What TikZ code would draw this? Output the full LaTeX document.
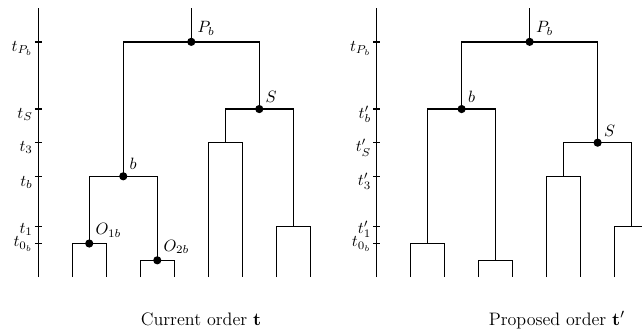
\documentclass[tikz,border=0pt]{standalone}
\usetikzlibrary{positioning}
\begin{document}
\begin{tikzpicture}[x=10.37pt,y=10.25pt,
branch/.style={line width=0.85pt,draw=black},
axisline/.style={line width=0.85pt,draw=black},
vertex/.style={circle,fill=black,inner sep=0pt,minimum size=5pt},
tickname/.style={anchor=base east,inner sep=0pt},
vertexname/.style={anchor=south west,inner sep=1.8pt},
caption/.style={anchor=base,font=\fontsize{11}{13}\selectfont}]
\useasboundingbox (-2.25,-3.45) rectangle (35.51,16.49);
% current order
\coordinate (axbot) at (0,0);
\coordinate (axtop) at (0,16);
\draw[axisline] (axbot) -- (axtop);
\foreach \lv/\dy/\nm/\txt in {14/0.55/tPb/{t_{P_b}},10/0.55/tS/{t_S},8/0.5/tthree/{t_3},6/0.6/tb/{t_b},3/0.4/tone/{t_1},2/0.2/tzero/{t_{0_b}}}{
\draw[axisline] (-0.2,\lv) -- (0.2,\lv);
\node[tickname] (\nm) at (-0.3,\lv-\dy) {$\txt$};
}
\foreach \k in {1,...,8}{\coordinate (leaf\k) at (2*\k,0);}
\coordinate (roottop) at (9,16);
\node[vertex] (Pb) at (9,14) {};
\node[vertex] (b) at (5,6) {};
\node[vertex] (S) at (13,10) {};
\node[vertex] (Oone) at (3,2) {};
\node[vertex] (Otwo) at (7,1) {};
\coordinate (sthree) at (11,8);
\coordinate (sone) at (15,3);
\draw[branch] (roottop) -- (Pb.center);
\draw[branch] (b.center) |- (Pb.center) -| (S.center);
\draw[branch] (Oone.center) |- (b.center) -| (Otwo.center);
\draw[branch] (sthree) |- (S.center) -| (sone);
\draw[branch] (leaf1) |- (Oone.center) -| (leaf2);
\draw[branch] (leaf3) |- (Otwo.center) -| (leaf4);
\draw[branch] (leaf5) |- (sthree) -| (leaf6);
\draw[branch] (leaf7) |- (sone) -| (leaf8);
\node[vertexname] (Pbname) at (Pb.north east) {$P_b$};
\node[vertexname] (bname) at (b.north east) {$b$};
\node[vertexname] (Sname) at (S.north east) {$S$};
\node[vertexname] (Oonename) at (Oone.north east) {$O_{1b}$};
\node[vertexname] (Otwoname) at (Otwo.north east) {$O_{2b}$};
\node[caption] (curcap) at (9.57,-2.86) {Current order $\mathbf{t}$};
% proposed order
\begin{scope}[shift={(19.9,0)}]
\coordinate (raxbot) at (0,0);
\coordinate (raxtop) at (0,16);
\draw[axisline] (raxbot) -- (raxtop);
\foreach \lv/\dy/\nm/\txt in {14/0.55/rtPb/{t_{P_b}},10/0.55/rtb/{t'_b},8/0.55/rtS/{t'_S},6/0.55/rtthree/{t'_3},3/0.4/rtone/{t'_1},2/0.2/rtzero/{t_{0_b}}}{
\draw[axisline] (-0.2,\lv) -- (0.2,\lv);
\node[tickname] (\nm) at (-0.3,\lv-\dy) {$\txt$};
}
\foreach \k in {1,...,8}{\coordinate (rleaf\k) at (2*\k,0);}
\coordinate (rroottop) at (9,16);
\node[vertex] (rPb) at (9,14) {};
\node[vertex] (rb) at (5,10) {};
\node[vertex] (rS) at (13,8) {};
\coordinate (rOone) at (3,2);
\coordinate (rOtwo) at (7,1);
\coordinate (rsthree) at (11,6);
\coordinate (rsone) at (15,3);
\draw[branch] (rroottop) -- (rPb.center);
\draw[branch] (rb.center) |- (rPb.center) -| (rS.center);
\draw[branch] (rOone) |- (rb.center) -| (rOtwo);
\draw[branch] (rsthree) |- (rS.center) -| (rsone);
\draw[branch] (rleaf1) |- (rOone) -| (rleaf2);
\draw[branch] (rleaf3) |- (rOtwo) -| (rleaf4);
\draw[branch] (rleaf5) |- (rsthree) -| (rleaf6);
\draw[branch] (rleaf7) |- (rsone) -| (rleaf8);
\node[vertexname] (rPbname) at (rPb.north east) {$P_b$};
\node[vertexname] (rbname) at (rb.north east) {$b$};
\node[vertexname] (rSname) at (rS.north east) {$S$};
\end{scope}
\node[caption] (propcap) at (30.5,-2.86) {Proposed order $\mathbf{t}'$};
\end{tikzpicture}
\end{document}
